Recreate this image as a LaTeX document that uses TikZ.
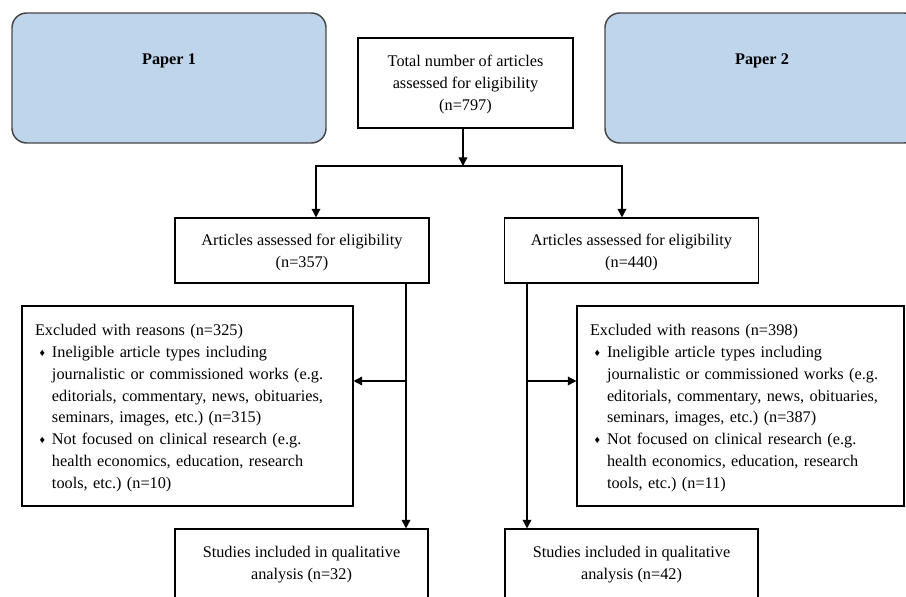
\documentclass[tikz,border=0pt]{standalone}
\usepackage{fontspec}
\setmainfont{Liberation Serif}
\usetikzlibrary{arrows.meta}
\definecolor{paperblue}{RGB}{190,213,236}
\definecolor{rimgray}{RGB}{70,70,70}
% small diamond bullet, then the item text
\newcommand{\dmd}{\makebox[12.75pt][l]{\hspace{3.5pt}\raisebox{0.8pt}{\fontsize{8}{8}\selectfont ♦}}}
\newcommand{\hang}{\hspace*{12.75pt}}
\begin{document}
\begin{tikzpicture}[x=0.75pt,y=-0.75pt,
    font=\fontsize{12.2}{16.4}\selectfont,
    paper/.style={draw=rimgray,line width=1.1pt,fill=paperblue,rounded corners=11pt,
        minimum width=235.5pt,minimum height=97.5pt},
    box/.style={draw,line width=0.8pt,align=center,inner sep=0pt,text depth=0pt},
    exbox/.style={draw,line width=0.8pt,align=left,text width=228.75pt,text height=11.6pt,
        inner xsep=9.75pt,inner ysep=0pt,minimum height=150pt},
    arr/.style={line width=1.1pt,-{Triangle[length=6.5pt,width=6.5pt]}}]
    \clip (0,0) rectangle (906,596);

    \node[paper] (paper1) at (169,78) {};
    \node[font=\fontsize{12.2}{16.4}\selectfont\bfseries] (paper1t) at ([yshift=-36.5pt]paper1.north) {Paper 1};
    \node[paper] (paper2) at (762,78) {};
    \node[font=\fontsize{12.2}{16.4}\selectfont\bfseries] (paper2t) at ([yshift=-36.5pt]paper2.north) {Paper 2};

    \node[box,minimum width=161.25pt,minimum height=67.5pt] (total) at (465.5,83)
        {Total number of articles\\assessed for eligibility\\(n=797)};

    \node[box,minimum width=190.5pt,minimum height=48.75pt] (artL) at (302,250.5)
        {Articles assessed for eligibility\\(n=357)};
    \node[box,minimum width=190.5pt,minimum height=48.75pt] (artR) at (631.5,250.5)
        {Articles assessed for eligibility\\(n=440)};

    \node[exbox] (excL) at (187.5,406) {Excluded with reasons (n=325)\\
        \dmd Ineligible article types including\\
        \hang journalistic or commissioned works (e.g.\\
        \hang editorials, commentary, news, obituaries,\\
        \hang seminars, images, etc.)\ (n=315)\\
        \dmd Not focused on clinical research (e.g.\\
        \hang health economics, education, research\\
        \hang tools, etc.)\ (n=10)};
    \node[exbox,text width=225.75pt] (excR) at (740.5,406) {Excluded with reasons (n=398)\\
        \dmd Ineligible article types including\\
        \hang journalistic or commissioned works (e.g.\\
        \hang editorials, commentary, news, obituaries,\\
        \hang seminars, images, etc.)\ (n=387)\\
        \dmd Not focused on clinical research (e.g.\\
        \hang health economics, education, research\\
        \hang tools, etc.)\ (n=11)};

    \node[box,minimum width=189.75pt,minimum height=54pt,text depth=2.7pt] (studL) at (301.5,565)
        {Studies included in qualitative\\analysis (n=32)};
    \node[box,minimum width=189.75pt,minimum height=54pt,text depth=2.7pt] (studR) at (631.5,565)
        {Studies included in qualitative\\analysis (n=42)};

    % split from the total
    \coordinate (fork) at (463,166);
    \draw[arr] (fork |- total.south) -- (fork);
    \draw[arr] (fork) -| (316,0 |- artL.north);
    \draw[arr] (fork) -| (622,0 |- artR.north);

    % left column
    \coordinate (midL) at (406,381);
    \draw[arr] (midL |- artL.south) -- (midL |- studL.north);
    \draw[arr] (midL) -- (midL -| excL.east);

    % right column
    \coordinate (midR) at (527,381);
    \draw[arr] (midR |- artR.south) -- (midR |- studR.north);
    \draw[arr] (midR) -- (midR -| excR.west);
\end{tikzpicture}
\end{document}
